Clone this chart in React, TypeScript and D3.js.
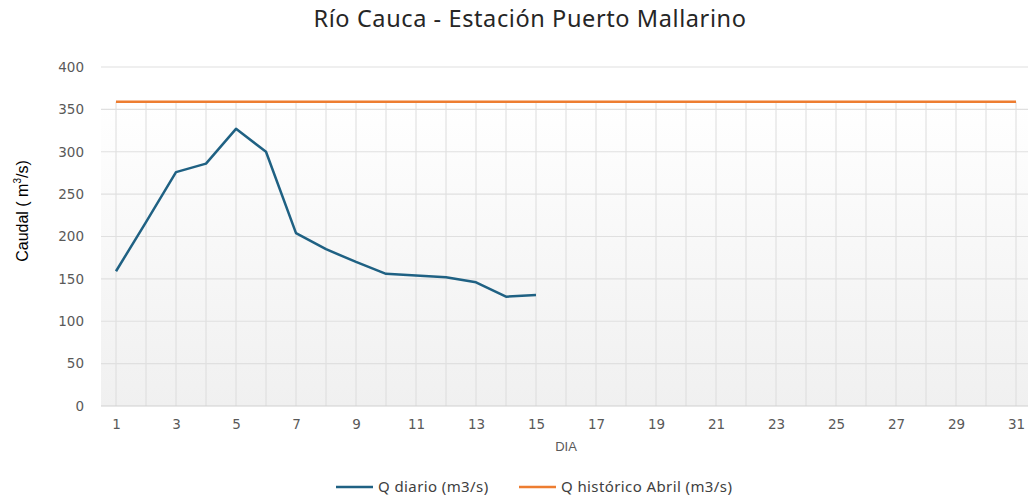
import { useEffect, useRef } from "react";
import * as d3 from "d3";

const days = d3.range(1, 32);
const qDiario = [159, 217, 276, 286, 327, 300, 204, 185, 170, 156, 154, 152, 146, 129, 131];
const qHistorico = 359;
const yTicks = [0, 50, 100, 150, 200, 250, 300, 350, 400];
const xTickDays = days.filter((d) => d % 2 === 1);

const W = 1028;
const H = 496;

export default function App() {
  const ref = useRef<SVGSVGElement | null>(null);

  useEffect(() => {
    if (!ref.current) return;
    const svg = d3.select(ref.current);
    svg.selectAll("*").remove();

    const m = { t: 67, r: -3, b: 90, l: 101 };
    const w = W - m.l - m.r;
    const h = H - m.t - m.b;

    const x = d3.scalePoint<number>().domain(days).range([15, w - 15]);
    const y = d3.scaleLinear().domain([0, 400]).range([h, 0]);

    const defs = svg.append("defs");
    const grad = defs
      .append("linearGradient")
      .attr("id", "bg")
      .attr("x1", 0)
      .attr("y1", 0)
      .attr("x2", 0)
      .attr("y2", 1);
    grad.append("stop").attr("offset", "0%").attr("stop-color", "#ffffff");
    grad.append("stop").attr("offset", "100%").attr("stop-color", "#f0f0f0");

    const g = svg.append("g").attr("transform", `translate(${m.l},${m.t})`);

    // ── Background + grid ───────────────────────────────────────────────────
    g.append("rect")
      .attr("x", 0)
      .attr("y", y(qHistorico))
      .attr("width", w)
      .attr("height", h - y(qHistorico))
      .attr("fill", "url(#bg)");

    g.selectAll("line.vgrid")
      .data(days)
      .enter()
      .append("line")
      .attr("x1", (d) => x(d) as number)
      .attr("x2", (d) => x(d) as number)
      .attr("y1", y(qHistorico))
      .attr("y2", h)
      .attr("stroke", "#dcdcdc")
      .attr("stroke-width", 1);

    g.selectAll("line.hgrid")
      .data(yTicks)
      .enter()
      .append("line")
      .attr("x1", 0)
      .attr("x2", w)
      .attr("y1", (d) => y(d))
      .attr("y2", (d) => y(d))
      .attr("stroke", (d) => (d === 0 ? "#d0d0d0" : "#e0e0e0"))
      .attr("stroke-width", 1.2);

    // ── Axes ────────────────────────────────────────────────────────────────
    const tickFont = "DejaVu Sans, Verdana, sans-serif";

    g.append("g")
      .call(d3.axisLeft(y).tickValues(yTicks).tickSize(0).tickPadding(17))
      .call((sel) => sel.select(".domain").remove())
      .selectAll("text")
      .attr("font-size", 13.5)
      .attr("font-family", tickFont)
      .attr("fill", "#595959");

    g.append("g")
      .attr("transform", `translate(0,${h})`)
      .call(d3.axisBottom(x).tickValues(xTickDays).tickSize(0).tickPadding(13))
      .call((sel) => sel.select(".domain").remove())
      .selectAll("text")
      .attr("font-size", 13.5)
      .attr("font-family", tickFont)
      .attr("fill", "#595959");

    // ── Lines ───────────────────────────────────────────────────────────────
    g.append("line")
      .attr("x1", x(1) as number)
      .attr("x2", x(31) as number)
      .attr("y1", y(qHistorico))
      .attr("y2", y(qHistorico))
      .attr("stroke", "#ed7d31")
      .attr("stroke-width", 2.5);

    const line = d3
      .line<number>()
      .x((_, i) => x(days[i]) as number)
      .y((d) => y(d));

    g.append("path")
      .datum(qDiario)
      .attr("d", line)
      .attr("fill", "none")
      .attr("stroke", "#1f6183")
      .attr("stroke-width", 2.5)
      .attr("stroke-linejoin", "round");

    // ── Titles ──────────────────────────────────────────────────────────────
    svg.append("text")
      .attr("x", 530)
      .attr("y", 27)
      .attr("text-anchor", "middle")
      .attr("font-size", 23.5)
      .attr("letter-spacing", 0.6)
      .attr("font-family", "Noto Sans, sans-serif")
      .attr("fill", "#262626")
      .text("Río Cauca - Estación Puerto Mallarino");

    const yl = svg.append("text")
      .attr("transform", "translate(28,211) rotate(-90)")
      .attr("text-anchor", "middle")
      .attr("font-size", 16)
      .attr("font-family", "Liberation Sans, Arial, sans-serif")
      .attr("fill", "#000");
    yl.append("tspan").text("Caudal ( m");
    yl.append("tspan").attr("font-size", 10).attr("dy", -7).text("3");
    yl.append("tspan").attr("dy", 7).text("/s)");

    svg.append("text")
      .attr("x", 566)
      .attr("y", 451)
      .attr("text-anchor", "middle")
      .attr("font-size", 13)
      .attr("font-family", "Liberation Sans, Arial, sans-serif")
      .attr("fill", "#595959")
      .text("DIA");

    // ── Legend ──────────────────────────────────────────────────────────────
    const legend = [
      { label: "Q diario (m3/s)", color: "#1f6183", x: 336 },
      { label: "Q histórico Abril (m3/s)", color: "#ed7d31", x: 519 },
    ];
    const lg = svg.selectAll("g.leg").data(legend).enter().append("g")
      .attr("transform", (d) => `translate(${d.x},487)`);
    lg.append("line")
      .attr("x1", 0).attr("x2", 37).attr("y1", 0).attr("y2", 0)
      .attr("stroke", (d) => d.color).attr("stroke-width", 2.5);
    lg.append("text")
      .attr("x", 42)
      .attr("y", 4.5)
      .attr("font-size", 15)
      .attr("letter-spacing", 0.4)
      .attr("font-family", "Noto Sans, sans-serif")
      .attr("fill", "#404040")
      .text((d) => d.label);
  }, []);

  return (
    <svg
      ref={ref}
      width={W}
      height={H}
      style={{ position: "absolute", top: 0, left: 0, background: "#fff" }}
    />
  );
}
